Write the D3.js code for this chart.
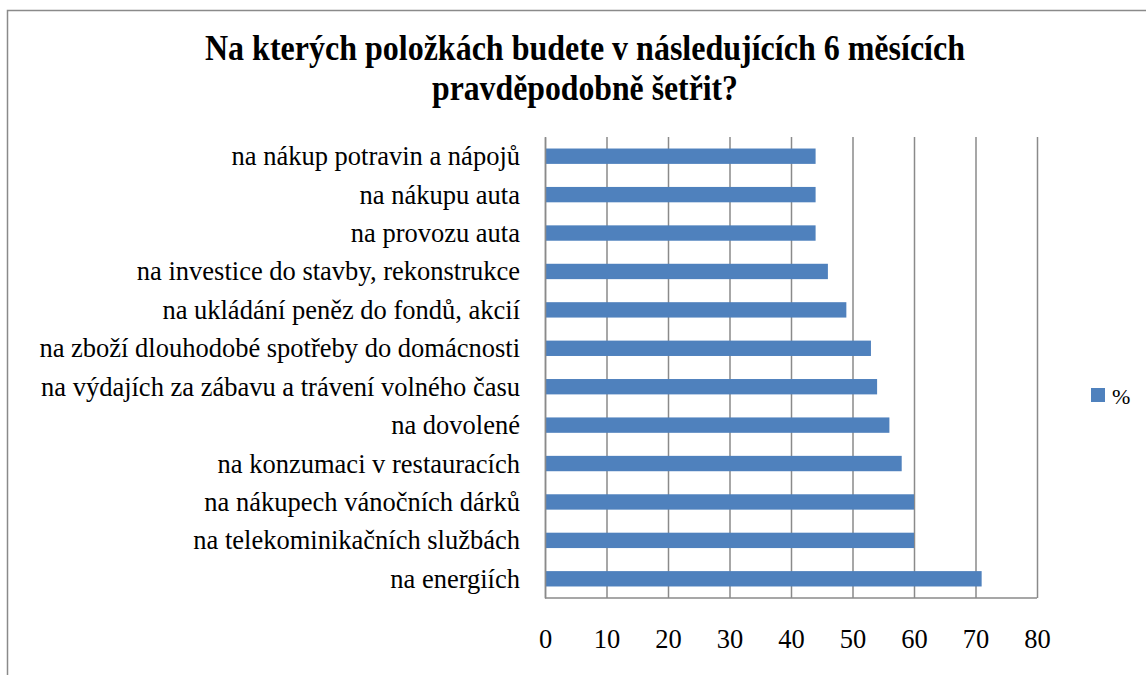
<!DOCTYPE html>
<html>
<head>
<meta charset="utf-8">
<script src="https://cdn.jsdelivr.net/npm/d3@7"></script>
<style>
  body { margin: 0; background: #fff; }
</style>
</head>
<body>
<div id="chart"></div>
<script>
const categories = [
  "na nákup potravin a nápojů",
  "na nákupu auta",
  "na provozu auta",
  "na investice do stavby, rekonstrukce",
  "na ukládání peněz do fondů, akcií",
  "na zboží dlouhodobé spotřeby do domácnosti",
  "na výdajích za zábavu a trávení volného času",
  "na dovolené",
  "na konzumaci v restauracích",
  "na nákupech vánočních dárků",
  "na telekominikačních službách",
  "na energiích"
];
const values = [44, 44, 44, 46, 49, 53, 54, 56, 58, 60, 60, 71];
const xTicks = [0, 10, 20, 30, 40, 50, 60, 70, 80];
const seriesName = "%";
const titleLines = [
  "Na kterých položkách budete v následujících 6 měsících",
  "pravděpodobně šetřit?"
];

const width = 1146;
const height = 675;
const plot = { left: 545, right: 1037, top: 137, bottom: 598 };
const barColor = "#4f81bd";
const gridColor = "#8a8a8a";
const serif = "'Liberation Serif', 'Times New Roman', 'DejaVu Serif', serif";

const svg = d3.select("#chart")
  .append("svg")
    .attr("width", width)
    .attr("height", height)
    .attr("font-family", serif);

// outer chart frame (runs off the right and bottom edge)
svg.append("rect")
  .attr("x", 7.5)
  .attr("y", 10.5)
  .attr("width", 1300)
  .attr("height", 800)
  .attr("fill", "none")
  .attr("stroke", gridColor)
  .attr("stroke-width", 1.5);

const x = d3.scaleLinear()
  .domain([0, 80])
  .range([plot.left, plot.right]);

const y = d3.scaleBand()
  .domain(categories)
  .range([plot.top, plot.bottom])
  .paddingInner(0.6)
  .paddingOuter(0.3);

// gridlines + tick labels
const xAxis = svg.append("g")
  .attr("transform", `translate(0,${plot.bottom})`)
  .call(d3.axisBottom(x)
    .tickValues(xTicks)
    .tickSize(-(plot.bottom - plot.top))
    .tickFormat(d3.format("d")))
  .attr("font-family", serif)
  .attr("font-size", null);

xAxis.select(".domain").remove();
xAxis.selectAll(".tick line")
  .attr("stroke", gridColor)
  .attr("stroke-width", 1.5);
xAxis.selectAll(".tick text")
  .attr("y", 50)
  .attr("dy", null)
  .attr("fill", "#000")
  .style("font-family", serif)
  .style("font-size", "26.5px");

svg.append("line")
  .attr("x1", x(0))
  .attr("x2", x(80))
  .attr("y1", plot.bottom)
  .attr("y2", plot.bottom)
  .attr("stroke", gridColor)
  .attr("stroke-width", 1.5);

// bars
svg.append("g")
  .selectAll("rect")
  .data(categories)
  .enter().append("rect")
    .attr("x", x(0))
    .attr("y", d => y(d))
    .attr("width", (d, i) => x(values[i]) - x(0))
    .attr("height", y.bandwidth())
    .attr("fill", barColor);

// category axis
const yAxis = svg.append("g")
  .attr("transform", `translate(${plot.left},0)`)
  .call(d3.axisLeft(y).tickSize(0).tickPadding(25))
  .attr("font-family", serif)
  .attr("font-size", null);

yAxis.select(".domain")
  .attr("stroke", gridColor)
  .attr("stroke-width", 1.5);
yAxis.selectAll(".tick text")
  .attr("dy", "0.34em")
  .attr("fill", "#000")
  .style("font-family", serif)
  .style("font-size", "26.5px");

// title
const titleWidths = [760, 306];
const titleBase = [60, 100];
svg.selectAll(".title")
  .data(titleLines)
  .enter().append("text")
    .attr("class", "title")
    .attr("x", 585)
    .attr("y", (d, i) => titleBase[i])
    .attr("text-anchor", "middle")
    .attr("textLength", (d, i) => titleWidths[i])
    .attr("lengthAdjust", "spacingAndGlyphs")
    .style("font-family", serif)
    .style("font-size", "36px")
    .style("font-weight", "bold")
    .text(d => d);

// legend
const legend = svg.append("g")
  .attr("transform", "translate(1091,388)");

legend.append("rect")
  .attr("width", 14)
  .attr("height", 14)
  .attr("fill", barColor);

legend.append("text")
  .attr("x", 21)
  .attr("y", 16)
  .style("font-family", serif)
  .style("font-size", "22px")
  .text(seriesName);
</script>
</body>
</html>
